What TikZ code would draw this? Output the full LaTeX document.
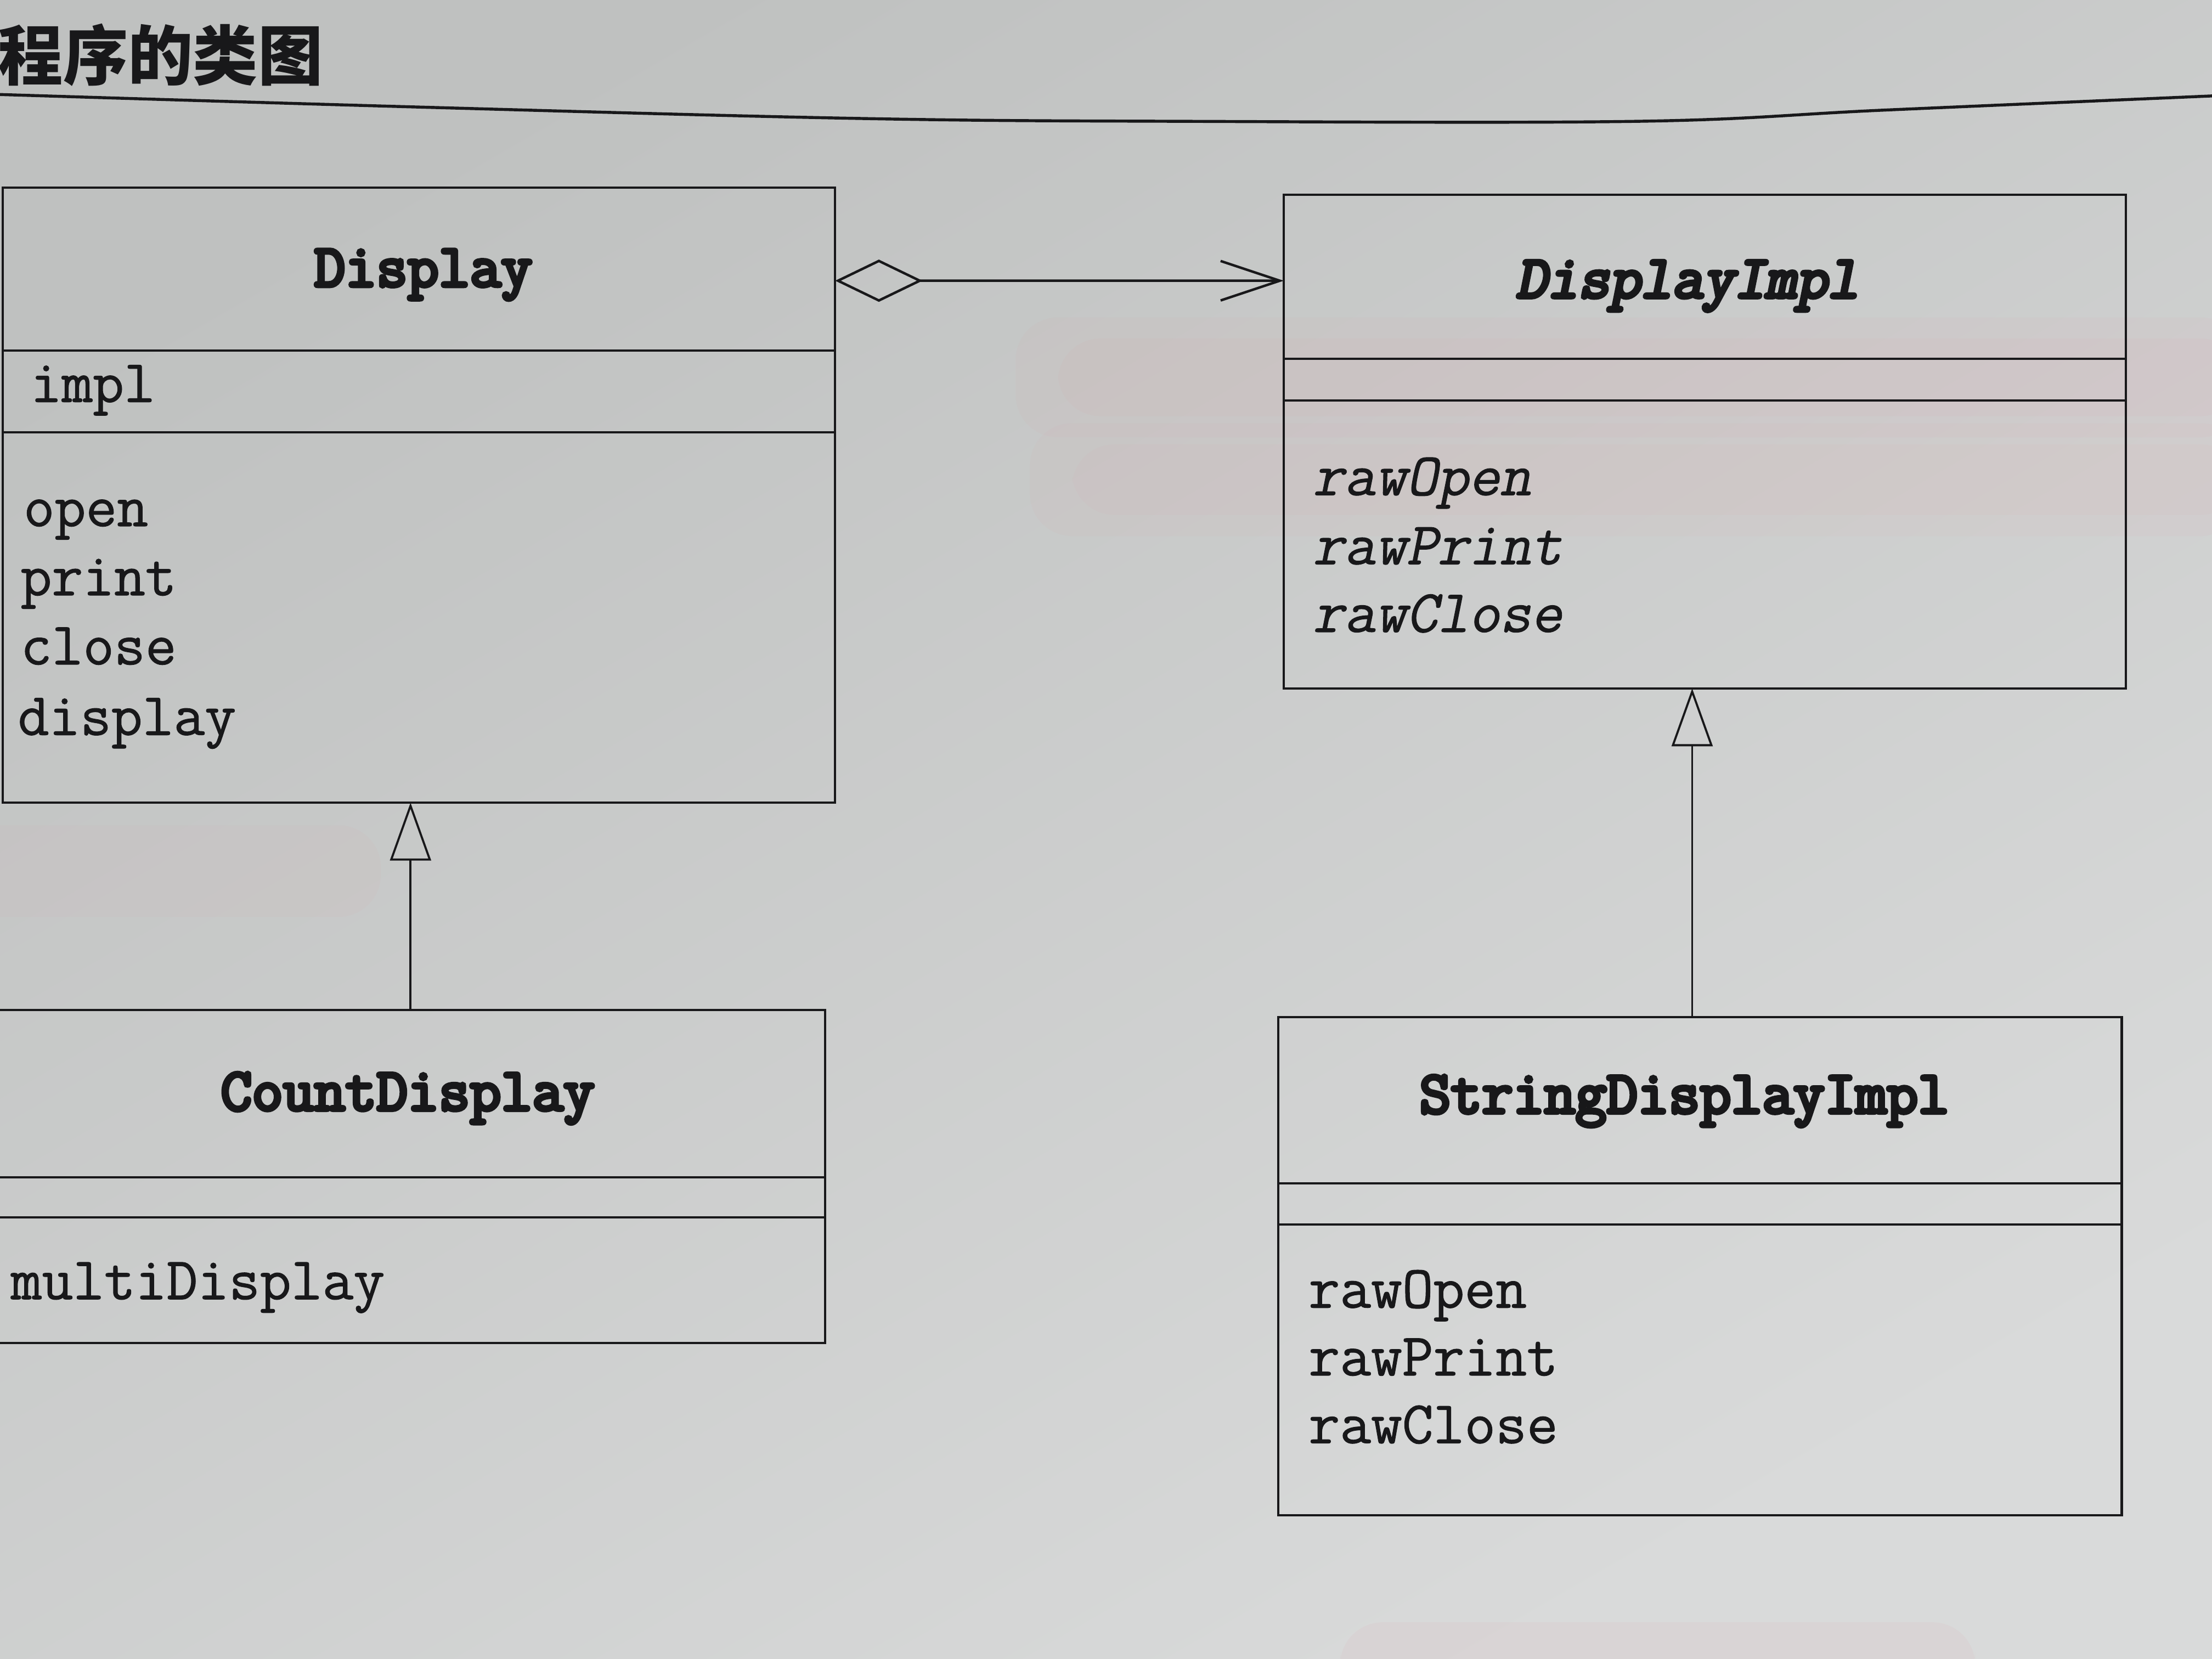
\documentclass[tikz,border=0pt]{standalone}
\usepackage{fontspec}
\newfontfamily\cjk{Noto Sans CJK SC}
\newfontfamily\namefont{Latin Modern Mono}[FakeBold=6]
\newfontfamily\nameslfont{Latin Modern Mono}[FakeBold=6, FakeSlant=0.2]
\newfontfamily\memfont{Latin Modern Mono}[FakeBold=1]
\newfontfamily\memslfont{Latin Modern Mono}[FakeBold=1, FakeSlant=0.2]
\usetikzlibrary{arrows.meta}
\definecolor{ink}{RGB}{24,24,26}
\definecolor{bgT}{RGB}{191,193,192}
\definecolor{bgB}{RGB}{217,218,218}
\definecolor{stain}{RGB}{228,150,160}
\tikzset{
 cname/.style={font=\fontsize{12.2pt}{14pt}\selectfont\namefont, text=ink, inner sep=0pt, anchor=base},
 cnamei/.style={cname, font=\fontsize{12.2pt}{14pt}\selectfont\nameslfont},
 mem/.style={font=\fontsize{12.2pt}{14pt}\selectfont\memfont, text=ink, inner sep=0pt, anchor=base west},
 memi/.style={mem, font=\fontsize{12.2pt}{14pt}\selectfont\memslfont},
 cbox/.style={draw=ink, line width=0.45pt, inner sep=0pt, outer sep=0pt, anchor=north west},
 aggr/.style={draw=ink, line width=0.5pt, {Diamond[open,length=6.2mm,width=3.0mm]}-{Straight Barb[length=4.2mm,width=2.8mm]}},
 gen/.style={draw=ink, line width=0.42pt, -{Triangle[open,length=4.1mm,width=2.9mm]}},
 stainband/.style={fill=stain, rounded corners=0.3cm},
}
\begin{document}
\begin{tikzpicture}
\useasboundingbox (0,0) rectangle (15.68,-11.76);
% paper
\shade[top color=bgT, bottom color=bgB, shading angle=30] (0,0) rectangle (15.68,-11.76);
\fill[stainband, opacity=0.06] (7.2,-2.25) rectangle (15.9,-3.1);
\fill[stainband, opacity=0.06] (7.5,-2.4) rectangle (15.9,-2.95);
\fill[stainband, opacity=0.05] (7.3,-3.0) rectangle (15.9,-3.8);
\fill[stainband, opacity=0.05] (7.6,-3.15) rectangle (15.9,-3.65);
\fill[stainband, opacity=0.05] (-0.3,-5.85) rectangle (2.7,-6.5);
\fill[stainband, opacity=0.08] (9.5,-11.5) rectangle (14,-12.0);

% title and rule
\node[font={\fontsize{13.1pt}{15pt}\selectfont\cjk\bfseries}, text=ink, anchor=west, inner sep=0pt] (title) at (-0.02,-0.39) {程序的类图};
\draw[ink, line width=0.6pt] plot[smooth, tension=0.6] coordinates {(-0.1,-0.667) (3.0,-0.76) (6.1,-0.84) (8.35,-0.86) (11.61,-0.86) (13.37,-0.78) (15.8,-0.675)};

% Display
\node[cbox, minimum width=5.90cm, minimum height=1.155cm] (dname) at (0.02,-1.33) {};
\node[cbox, minimum width=5.90cm, minimum height=0.58cm] (dattr) at (dname.south west) {};
\node[cbox, minimum width=5.90cm, minimum height=2.625cm] (dmeth) at (dattr.south west) {};
\node[cname] (dtitle) at (3.00,-2.03) {Display};
\node[mem] (d1) at (0.21,-2.85) {impl};
\node[mem] (d2) at (0.16,-3.73) {open};
\node[mem] (d3) at (0.14,-4.22) {print};
\node[mem] (d4) at (0.14,-4.71) {close};
\node[mem] (d5) at (0.12,-5.21) {display};

% DisplayImpl
\node[cbox, minimum width=5.97cm, minimum height=1.165cm] (iname) at (9.10,-1.38) {};
\node[cbox, minimum width=5.97cm, minimum height=0.295cm] (iattr) at (iname.south west) {};
\node[cbox, minimum width=5.97cm, minimum height=2.04cm] (imeth) at (iattr.south west) {};
\node[cnamei] (ititle) at (11.96,-2.11) {DisplayImpl};
\node[memi] (i1) at (9.30,-3.51) {rawOpen};
\node[memi] (i2) at (9.30,-4.00) {rawPrint};
\node[memi] (i3) at (9.30,-4.48) {rawClose};

% CountDisplay
\node[cbox, minimum width=5.88cm, minimum height=1.185cm] (cname) at (-0.03,-7.16) {};
\node[cbox, minimum width=5.88cm, minimum height=0.285cm] (cattr) at (cname.south west) {};
\node[cbox, minimum width=5.88cm, minimum height=0.89cm] (cmeth) at (cattr.south west) {};
\node[cname] (ctitle) at (2.89,-7.87) {CountDisplay};
\node[mem] (c1) at (0.07,-9.21) {multiDisplay};

% StringDisplayImpl
\node[cbox, minimum width=5.98cm, minimum height=1.18cm] (sname) at (9.06,-7.21) {};
\node[cbox, minimum width=5.98cm, minimum height=0.29cm] (sattr) at (sname.south west) {};
\node[cbox, minimum width=5.98cm, minimum height=2.06cm] (smeth) at (sattr.south west) {};
\node[cname] (stitle) at (11.94,-7.89) {StringDisplayImpl};
\node[mem] (s1) at (9.27,-9.27) {rawOpen};
\node[mem] (s2) at (9.27,-9.75) {rawPrint};
\node[mem] (s3) at (9.27,-10.23) {rawClose};

% connectors
\draw[aggr] ([yshift=-0.0825cm]dname.east) -- ([yshift=-0.0275cm]iname.west);
\draw[gen] (cname.north) -- (dmeth.south -| cname.north);
\draw[gen] ([xshift=-0.055cm]sname.north) coordinate (g2) -- (imeth.south -| g2);
\end{tikzpicture}
\end{document}
